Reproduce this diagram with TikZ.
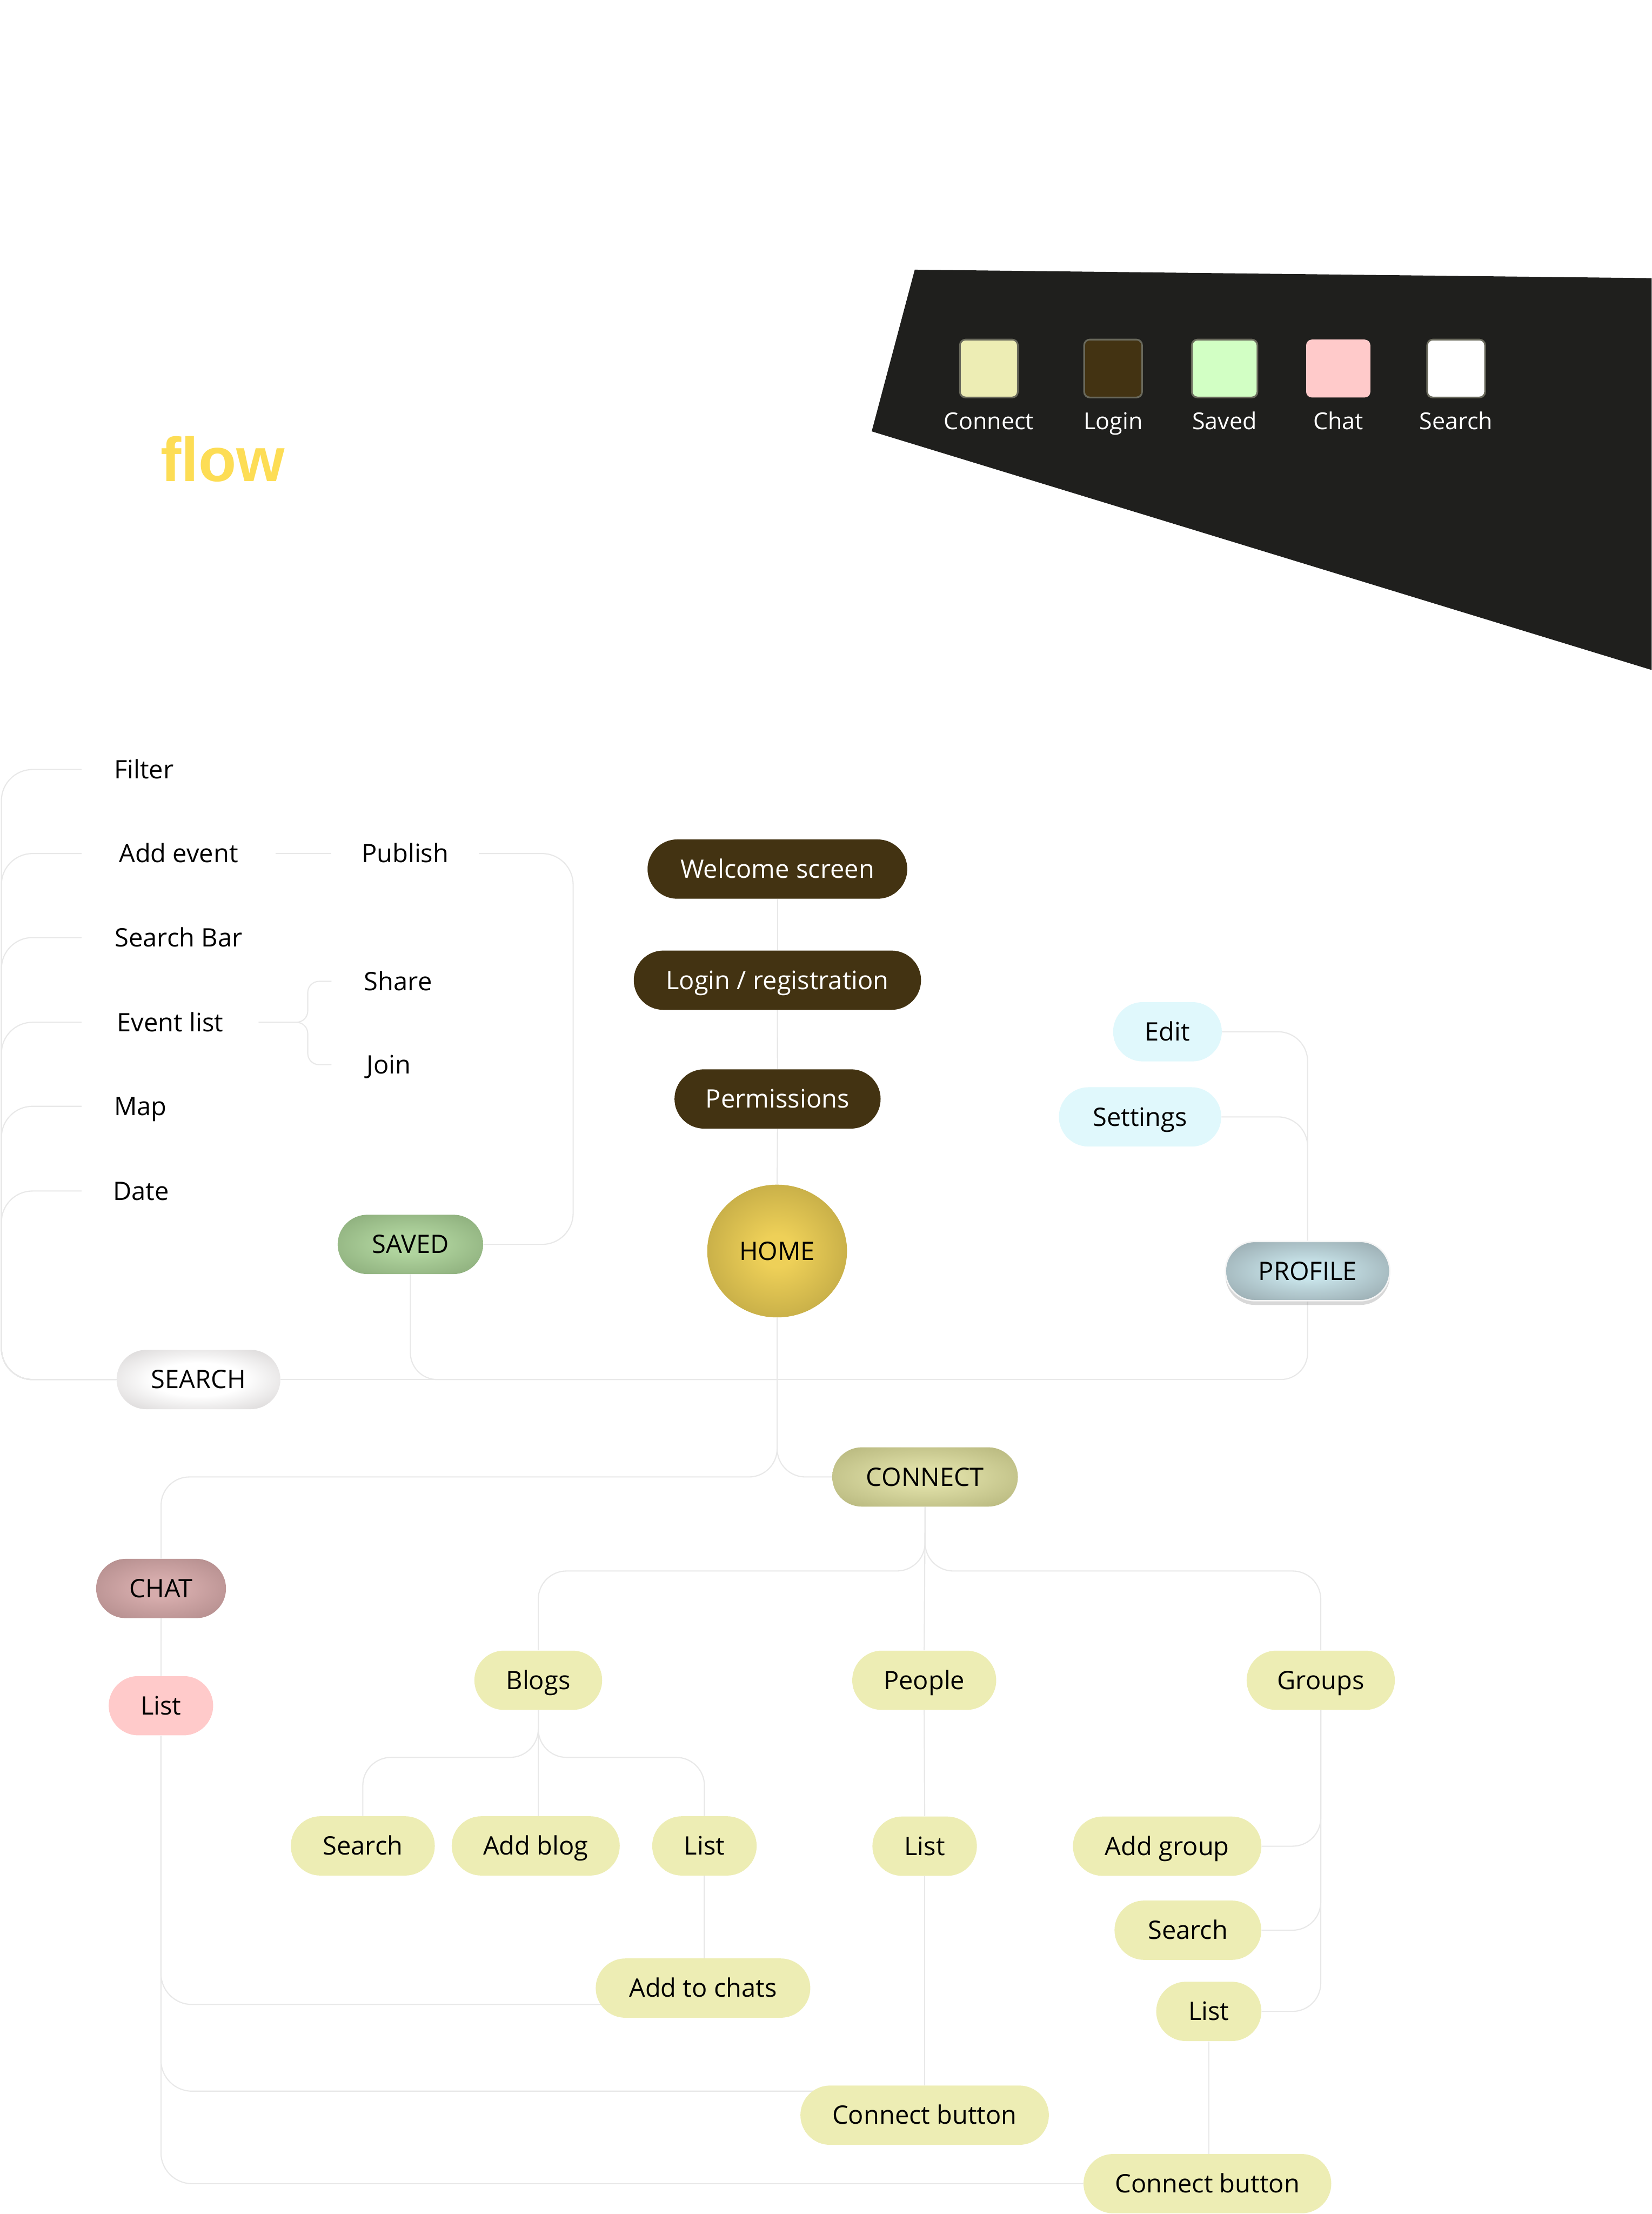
\documentclass[tikz,border=0pt]{standalone}
\usepackage{fontspec}
\setmainfont{Open Sans}
\newfontfamily\titlefont{Liberation Sans}
\usetikzlibrary{shapes.geometric,shadows}
\pgfdeclarelayer{bg}
\pgfsetlayers{bg,main}
\definecolor{polyc}{RGB}{31,31,29}
\definecolor{connc}{RGB}{232,232,232}
\definecolor{flowy}{RGB}{253,221,85}
\definecolor{yellowc}{RGB}{237,237,180}
\definecolor{brownc}{RGB}{67,51,18}
\definecolor{greenc}{RGB}{210,255,196}
\definecolor{pinkc}{RGB}{255,202,202}
\definecolor{cyanc}{RGB}{224,248,252}
\definecolor{swborder}{RGB}{105,105,92}
\definecolor{homein}{RGB}{238,208,88}
\definecolor{homeout}{RGB}{158,139,55}
\definecolor{savedin}{RGB}{176,212,158}
\definecolor{savedout}{RGB}{124,156,108}
\definecolor{searchin}{RGB}{255,255,255}
\definecolor{searchout}{RGB}{198,194,194}
\definecolor{profin}{RGB}{202,230,236}
\definecolor{profout}{RGB}{136,150,155}
\definecolor{connin}{RGB}{222,222,166}
\definecolor{connout}{RGB}{168,168,110}
\definecolor{chatin}{RGB}{214,172,172}
\definecolor{chatout}{RGB}{158,122,122}
\pgfdeclareradialshading{homesh}{\pgfpoint{0bp}{0bp}}{color(0bp)=(homein); color(6bp)=(homein); color(48bp)=(homeout); color(70bp)=(homeout)}
\pgfdeclareradialshading{savedsh}{\pgfpoint{0bp}{0bp}}{color(0bp)=(savedin); color(8bp)=(savedin); color(44bp)=(savedout); color(70bp)=(savedout)}
\pgfdeclareradialshading{searchsh}{\pgfpoint{0bp}{0bp}}{color(0bp)=(searchin); color(14bp)=(searchin); color(44bp)=(searchout); color(70bp)=(searchout)}
\pgfdeclareradialshading{profsh}{\pgfpoint{0bp}{0bp}}{color(0bp)=(profin); color(6bp)=(profin); color(42bp)=(profout); color(70bp)=(profout)}
\pgfdeclareradialshading{connsh}{\pgfpoint{0bp}{0bp}}{color(0bp)=(connin); color(8bp)=(connin); color(44bp)=(connout); color(70bp)=(connout)}
\pgfdeclareradialshading{chatsh}{\pgfpoint{0bp}{0bp}}{color(0bp)=(chatin); color(8bp)=(chatin); color(48bp)=(chatout); color(70bp)=(chatout)}
\tikzset{
  conn/.style={draw=connc, line width=0.8pt},
  lbl/.style={font=\fontsize{18}{21}\selectfont, text height=12.85pt, text depth=0pt},
  pill/.style={rectangle, rounded corners=21pt, minimum height=42pt, inner sep=0pt, text=black, lbl},
  ghost/.style={pill, fill=white},
  darkpill/.style={pill, fill=brownc, text=white},
  ypill/.style={pill, fill=yellowc},
  swatch/.style={rectangle, rounded corners=4pt, minimum height=41pt, inner sep=0pt, draw=swborder, line width=1.2pt},
  legtxt/.style={anchor=base, inner sep=0pt, text=white, font=\fontsize{16.5}{19}\selectfont},
  titlest/.style={anchor=base west, inner sep=0pt}
}
\begin{document}
\begin{tikzpicture}[x=1pt,y=-1pt]
\useasboundingbox (0,0) rectangle (1170,1568);
\begin{pgfonlayer}{bg}
\fill[white] (0,0) rectangle (1170,1568);
\fill[polyc] (648,191) -- (1170,197) -- (1170,474.5) -- (617.5,305.5) -- cycle;
\end{pgfonlayer}

% title
\node[titlest, text=white, font=\titlefont\bfseries\fontsize{77}{80}\selectfont] (explore) at (16.5,280) {Explore};
\node[titlest, font=\titlefont\bfseries\fontsize{44}{48}\selectfont] (userflow) at (3.5,341) {\textcolor{white}{User} \textcolor{flowy}{flow}};

% legend
\node[swatch, fill=yellowc, minimum width=41pt] (sw1) at (700.5,261) {};
\node[swatch, fill=brownc, minimum width=41pt] (sw2) at (788.5,261) {};
\node[swatch, fill=greenc, minimum width=46.5pt] (sw3) at (867.5,261) {};
\node[swatch, fill=pinkc, draw=none, minimum width=45.5pt] (sw4) at (948,261) {};
\node[swatch, fill=white, minimum width=41pt] (sw5) at (1031.5,261) {};
\node[legtxt] (lt1) at (700.5,304) {Connect};
\node[legtxt] (lt2) at (788.5,304) {Login};
\node[legtxt] (lt3) at (867.5,304) {Saved};
\node[legtxt] (lt4) at (948,304) {Chat};
\node[legtxt] (lt5) at (1031.5,304) {Search};

% left column
\node[ghost, minimum width=88pt] (filter) at (102,545) {Filter};
\node[ghost, minimum width=137pt] (addevent) at (126.5,604.5) {Add event};
\node[ghost, minimum width=137pt] (searchbar) at (126.5,664) {Search Bar};
\node[ghost, minimum width=125pt] (eventlist) at (120.5,724) {Event list};
\node[ghost, minimum width=83pt] (map) at (99.5,783.5) {Map};
\node[ghost, minimum width=84pt] (date) at (100,843.5) {Date};
\node[ghost, minimum width=104pt] (publish) at (287,604.5) {Publish};
\node[ghost, minimum width=94pt] (share) at (282,695) {Share};
\node[ghost, minimum width=81pt] (join) at (275.5,754) {Join};

% centre column
\node[darkpill, minimum width=184pt] (welcome) at (550.7,615.5) {Welcome screen};
\node[darkpill, minimum width=203.5pt] (login) at (550.7,694.2) {Login / registration};
\node[darkpill, minimum width=146pt] (perm) at (550.8,778.3) {Permissions};
\node[ellipse, shade, shading=homesh, minimum width=99pt, minimum height=94pt, inner sep=0pt, lbl] (home) at (550.5,886) {HOME};

\node[pill, shade, shading=savedsh, minimum width=103pt] (saved) at (290.7,881.3) {SAVED};
\node[pill, shade, shading=searchsh, minimum width=116pt] (search) at (140.6,977) {SEARCH};
\node[pill, shade, shading=profsh, draw=white!92!gray, line width=1pt, drop shadow={shadow xshift=0pt, shadow yshift=-3pt, opacity=0.3, fill=gray}, minimum width=116.5pt] (profile) at (926.3,900.2) {PROFILE};
\node[pill, fill=cyanc, minimum width=77pt] (edit) at (827,730.7) {Edit};
\node[pill, fill=cyanc, minimum width=115pt] (settings) at (807.6,791) {Settings};

\node[pill, shade, shading=connsh, minimum width=131.5pt] (connect) at (655.3,1046) {CONNECT};
\node[pill, shade, shading=chatsh, minimum width=92pt] (chat) at (114.1,1125) {CHAT};
\node[pill, fill=pinkc, minimum width=74pt] (chatlist) at (114,1208) {List};

\node[ypill, minimum width=90.5pt] (blogs) at (381.3,1190) {Blogs};
\node[ypill, minimum width=102pt] (people) at (654.7,1190) {People};
\node[ypill, minimum width=105pt] (groups) at (935.6,1190) {Groups};

\node[ypill, minimum width=102pt] (bsearch) at (257,1307.3) {Search};
\node[ypill, minimum width=119pt] (addblog) at (379.5,1307.3) {Add blog};
\node[ypill, minimum width=74pt] (blist) at (499,1307.3) {List};
\node[ypill, minimum width=74pt] (plist) at (655,1307.5) {List};
\node[ypill, minimum width=133.5pt] (addgroup) at (826.8,1307.5) {Add group};
\node[ypill, minimum width=104pt] (gsearch) at (841.5,1367) {Search};
\node[ypill, minimum width=74.5pt] (glist) at (856.3,1424.5) {List};
\node[ypill, minimum width=152pt] (addchats) at (498,1408) {Add to chats};
\node[ypill, minimum width=176pt] (cbtn1) at (655,1498) {Connect button};
\node[ypill, minimum width=175.5pt] (cbtn2) at (855.3,1546.5) {Connect button};

% connectors
\begin{pgfonlayer}{bg}
\foreach \n in {filter,addevent,searchbar,eventlist,map,date}
  \draw[conn, rounded corners=22pt] (search.west) -| (\n.west -| 1,0) -- (\n.west);
\draw[conn] (addevent.east) -- (publish.west);
\draw[conn, rounded corners=8pt] (eventlist.east) -- (eventlist.east -| 218,0) |- (share.west);
\draw[conn, rounded corners=8pt] (eventlist.east) -- (eventlist.east -| 218,0) |- (join.west);
\draw[conn, rounded corners=22pt] (publish.east) -- (publish.east -| 406,0) |- (saved.east);

\draw[conn] (welcome.south) -- (login.north);
\draw[conn] (login.south) -- (perm.north);
\draw[conn] (perm.south) -- (home.north);

\draw[conn, rounded corners=19pt] (search.east) -| (profile.south);
\draw[conn, rounded corners=19pt] (saved.south) |- (home.south |- search.east);
\draw[conn] (home.south) -- (home.south |- search.east);
\draw[conn, rounded corners=20pt] (home.south) |- (connect.west);
\draw[conn, rounded corners=20pt] (home.south) -- (home.south |- connect.west) -| (chat.north);

\draw[conn, rounded corners=21pt] (profile.north) |- (edit.east);
\draw[conn, rounded corners=21pt] (profile.north) |- (settings.east);

\draw[conn, rounded corners=20pt] (connect.south) -- (connect.south |- 0,1112.6) -| (blogs.north);
\draw[conn, rounded corners=20pt] (connect.south) -- (connect.south |- 0,1112.6) -| (groups.north);
\draw[conn] (connect.south) -- (people.north);

\draw[conn, rounded corners=20pt] (blogs.south) -- (blogs.south |- 0,1244.6) -| (bsearch.north);
\draw[conn, rounded corners=20pt] (blogs.south) -- (blogs.south |- 0,1244.6) -| (blist.north);
\draw[conn] (blogs.south) -- (blogs.south |- addblog.north);
\draw[conn] (blist.south) -- (blist.south |- addchats.north);

\draw[conn] (people.south) -- (plist.north);
\draw[conn] (plist.south) -- (cbtn1.north);

\draw[conn, rounded corners=20pt] (groups.south) |- (addgroup.east);
\draw[conn, rounded corners=20pt] (groups.south) |- (gsearch.east);
\draw[conn, rounded corners=20pt] (groups.south) |- (glist.east);
\draw[conn] (glist.south) -- (glist.south |- cbtn2.north);

\draw[conn] (chat.south) -- (chatlist.north);
\draw[conn, rounded corners=22pt] (chatlist.south) |- (430,1419.6);
\draw[conn, rounded corners=22pt] (chatlist.south) |- (580,1481);
\draw[conn, rounded corners=22pt] (chatlist.south) |- (cbtn2.west);
\end{pgfonlayer}
\end{tikzpicture}
\end{document}
